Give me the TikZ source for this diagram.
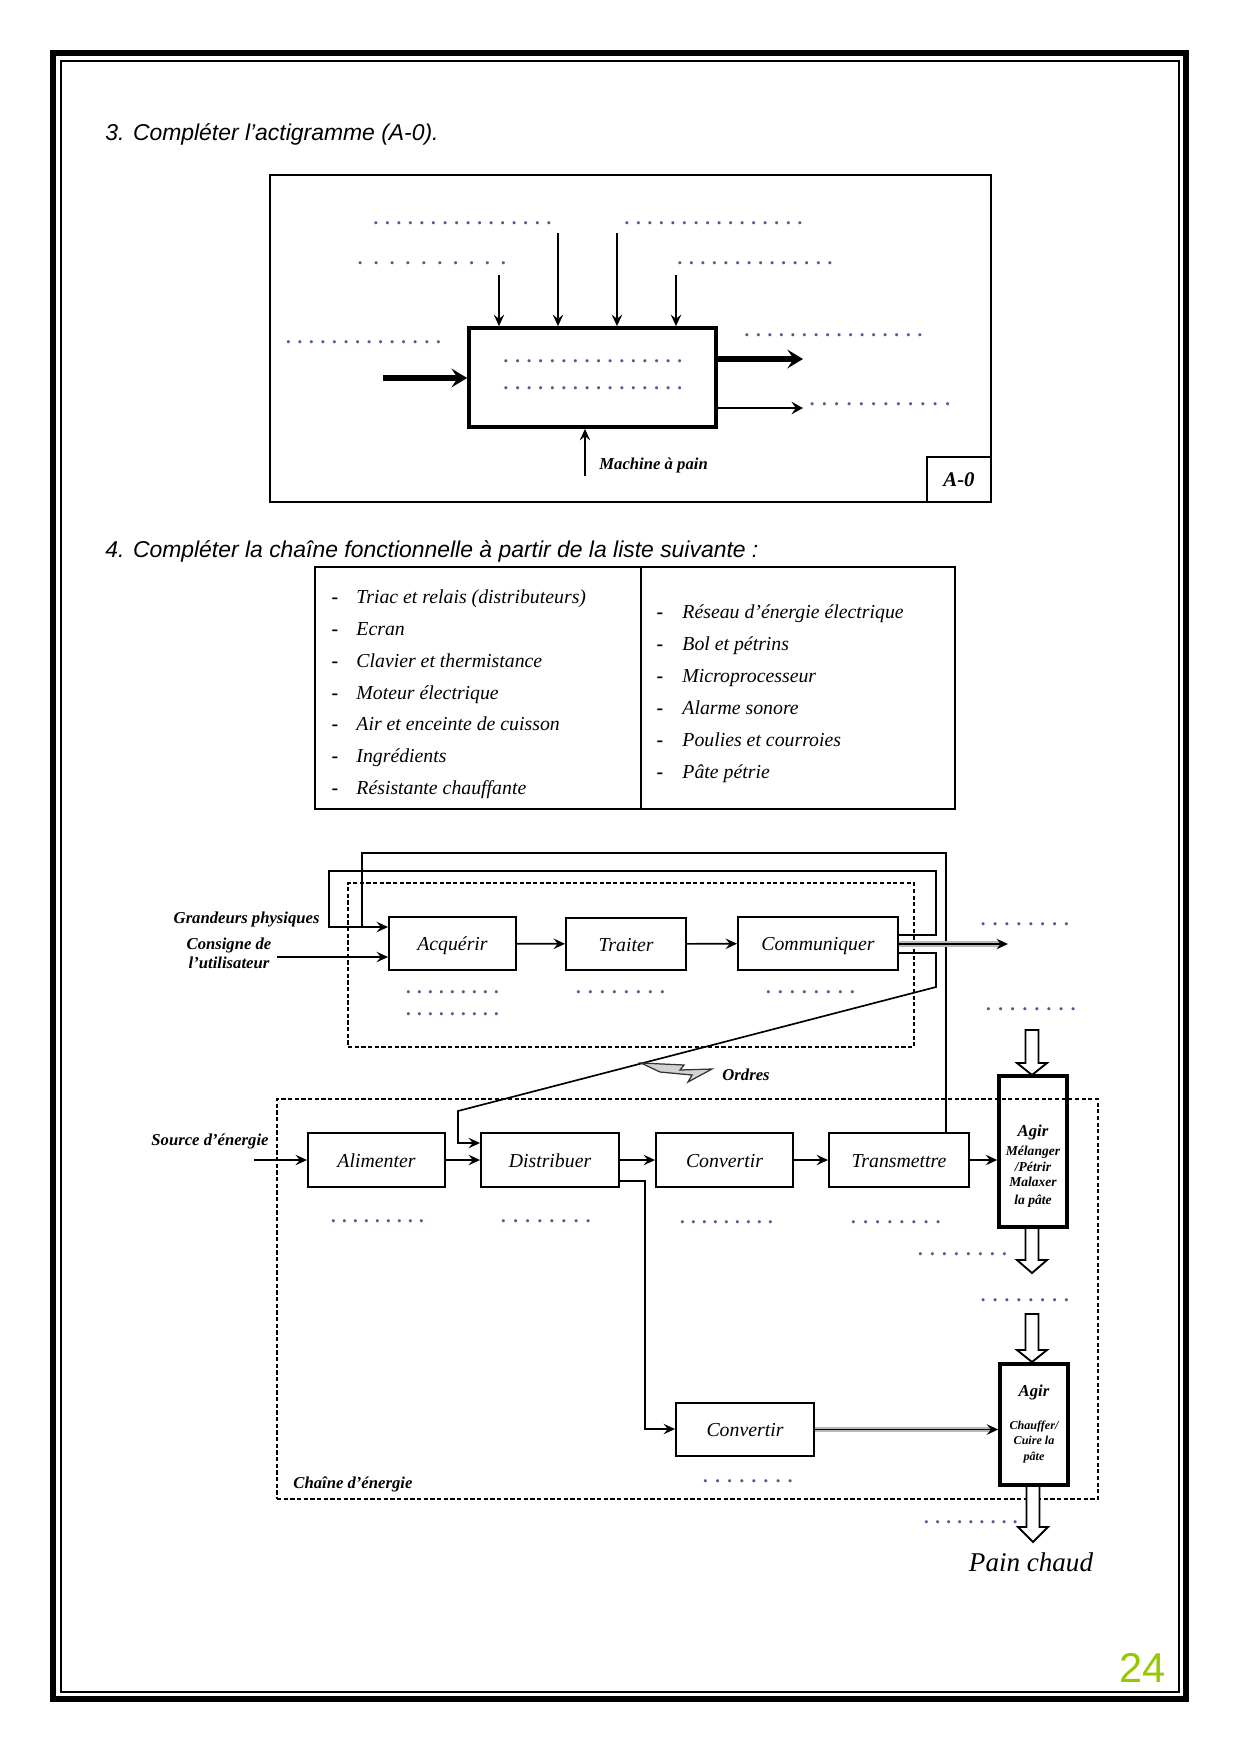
\documentclass[tikz,border=0pt]{standalone}
\usepackage{fontspec}
\setmainfont{Liberation Serif}
\newfontfamily\arialf{Liberation Sans}
\usetikzlibrary{arrows.meta}
\newdimen\pxu
\pxu=0.48pt
\definecolor{dotcol}{RGB}{95,80,150}
\definecolor{pagegreen}{RGB}{150,200,0}
\tikzset{
  arr/.style={-{Stealth[length=5.5pt,width=5pt,inset=2pt]}, line width=0.8pt},
  bigarr/.style={-{Stealth[length=7.5pt,width=9pt,inset=3pt]}, line width=3pt},
  medarr/.style={-{Stealth[length=5.5pt,width=6pt,inset=2pt]}, line width=1.4pt},
  fbox/.style={draw, line width=0.9pt, inner sep=0pt, font=\fontsize{9.5}{11}\selectfont\itshape, text height=1.6ex, text depth=0.1ex},
  agirbox/.style={draw, line width=1.7pt, inner sep=0pt},
  lbl/.style={inner sep=0pt, font=\fontsize{8}{9}\selectfont\bfseries\itshape, text height=1.5ex, text depth=0pt},
  agtxt/.style={inner sep=0pt, font=\fontsize{6.5}{7}\selectfont\bfseries\itshape, text height=1.5ex, text depth=0pt},
  agtxtb/.style={inner sep=0pt, font=\fontsize{5.8}{6.5}\selectfont\bfseries\itshape, text height=1.5ex, text depth=0pt},
  item/.style={inner sep=0pt, anchor=west, font=\fontsize{9.5}{11}\selectfont\itshape, text height=1.4ex, text depth=0pt},
  dashn/.style={inner sep=0pt, font=\fontsize{9.5}{11}\selectfont\bfseries, text height=1.4ex, text depth=0pt},
  dotn/.style={inner sep=0pt, anchor=west, text=dotcol, font=\fontsize{9}{9}\selectfont\bfseries},
  chainframe/.style={draw, dash pattern=on 2pt off 1.2pt, line width=0.7pt, inner sep=0pt},
  block/.style={draw, line width=0.9pt, fill=white},
  heading/.style={inner sep=0pt, anchor=base west, font=\arialf\fontsize{11}{13}\selectfont\itshape},
}
\newcommand\dotline[5]{%
  \pgfmathsetmacro\dlw{#3-#2+#5}%
  \node[dotn] (#1) at ({#2-#5/2},#4) {\hbox to \dlw\pxu{\xleaders\hbox to #5\pxu{\hss.\hss}\hfill}};}
\newcommand\blockarr[4]{%
  \draw[block] ({#1-6.5},#2) -- ({#1+6.5},#2) -- ({#1+6.5},#3) -- ({#1+15},#3) -- (#1,#4) -- ({#1-15},#3) -- ({#1-6.5},#3) -- cycle;}
\begin{document}
\begin{tikzpicture}[x=0.48pt, y=-0.48pt]
\useasboundingbox (0,0) rectangle (1240,1754);
\fill[white] (0,0) rectangle (1240,1754);
% page frame
\draw[line width=2.9pt] (53,53) rectangle (1186,1699);
\draw[line width=1pt] (61,61) rectangle (1179,1692);
\node[inner sep=0pt, anchor=base east, text=pagegreen, font=\arialf\fontsize{20}{24}\selectfont] (pnum) at (1166,1682) {24};
% headings
\node[heading] (h1) at (105,140) {3. Compléter l’actigramme (A-0).};
\node[heading] (h2) at (105,557) {4. Compléter la chaîne fonctionnelle à partir de la liste suivante :};

% ---------- actigramme ----------
\node[draw, line width=0.8pt, minimum width=721*\pxu, minimum height=327*\pxu, inner sep=0pt] (actframe) at (630.5,338.5) {};
\node[draw, line width=0.8pt, minimum width=64*\pxu, minimum height=45*\pxu, inner sep=0pt, font=\fontsize{10}{12}\selectfont\bfseries\itshape] (a0) at (959,479.5) {A-0};
\node[draw, line width=1.8pt, minimum width=247*\pxu, minimum height=99*\pxu, inner sep=0pt] (main) at (592.5,377.5) {};
\dotline{m1}{505}{680}{361}{11}
\dotline{m2}{505}{680}{388}{11}
\dotline{c1}{375}{549}{223}{11}
\dotline{c2}{626}{800}{223}{11}
\dotline{c3}{359}{504}{263}{15}
\dotline{c4}{679}{830}{263}{11}
\dotline{e1}{288}{438}{342}{11.5}
\dotline{s1}{746}{920}{335}{11}
\dotline{s2}{811}{948}{404}{11.5}
\coordinate (t1) at (499,275);
\coordinate (t2) at (558,233);
\coordinate (t3) at (617,233);
\coordinate (t4) at (676,275);
\foreach \c in {t1,t2,t3,t4} \draw[arr] (\c) -- (main.north -| \c);
\coordinate (inp) at (383,378);
\draw[bigarr] (inp) -- (main.west |- inp);
\coordinate (out1) at (803,359);
\draw[bigarr] (main.east |- out1) -- (out1);
\coordinate (out2) at (803,408);
\draw[medarr] (main.east |- out2) -- (out2);
\coordinate (mec) at (585,476);
\draw[arr] (mec) -- (main.south -| mec);
\node[lbl, anchor=west] (mach) at (599,462) {Machine à pain};

% ---------- liste ----------
\node[draw, line width=0.8pt, minimum width=640*\pxu, minimum height=242*\pxu, inner sep=0pt] (list) at (635,688) {};
\coordinate (divx) at (641,688);
\draw[line width=0.8pt] (list.north -| divx) -- (list.south -| divx);
\foreach \t [count=\i] in {Triac et relais (distributeurs), Ecran, Clavier et thermistance, Moteur électrique, Air et enceinte de cuisson, Ingrédients, Résistante chauffante}{
  \node[dashn] (dL\i) at (335,{597+31.8*(\i-1)}) {-};
  \node[item] (L\i) at (356,{597+31.8*(\i-1)}) {\t};
}
\foreach \t [count=\i] in {Réseau d’énergie électrique, Bol et pétrins, Microprocesseur, Alarme sonore, Poulies et courroies, Pâte pétrie}{
  \node[dashn] (dR\i) at (660,{612+32*(\i-1)}) {-};
  \node[item] (R\i) at (682,{612+32*(\i-1)}) {\t};
}

% ---------- chaine fonctionnelle ----------
\node[chainframe, minimum width=566*\pxu, minimum height=164*\pxu] (ichain) at (631,965) {};
\node[chainframe, minimum width=821*\pxu, minimum height=400*\pxu] (echain) at (687.5,1299) {};

\node[fbox, minimum width=127*\pxu, minimum height=53*\pxu] (acq) at (452.5,943.5) {Acquérir};
\node[fbox, minimum width=120*\pxu, minimum height=52*\pxu] (tra) at (626,944) {Traiter};
\node[fbox, minimum width=160*\pxu, minimum height=53*\pxu] (com) at (818,943.5) {Communiquer};
\node[fbox, minimum width=137*\pxu, minimum height=54*\pxu] (ali) at (376.5,1160) {Alimenter};
\node[fbox, minimum width=138*\pxu, minimum height=54*\pxu] (dis) at (550,1160) {Distribuer};
\node[fbox, minimum width=137*\pxu, minimum height=54*\pxu] (cv1) at (724.5,1160) {Convertir};
\node[fbox, minimum width=140*\pxu, minimum height=54*\pxu] (trm) at (899,1160) {Transmettre};
\node[agirbox, minimum width=68*\pxu, minimum height=151*\pxu] (agir1) at (1033,1151.5) {};
\node[agirbox, minimum width=68*\pxu, minimum height=121*\pxu] (agir2) at (1034,1424.5) {};
\node[fbox, minimum width=138*\pxu, minimum height=53*\pxu] (cv2) at (745,1429.5) {Convertir};

% texts of Agir boxes
\node[lbl] (ag1a) at (1033,1129) {Agir};
\node[agtxt] (ag1b) at (1033,1148) {Mélanger};
\node[agtxt] (ag1c) at (1033,1164) {/Pétrir};
\node[agtxt] (ag1d) at (1033,1179) {Malaxer};
\node[agtxt] (ag1e) at (1033,1197) {la pâte};
\node[lbl] (ag2a) at (1034,1389) {Agir};
\node[agtxtb] (ag2b) at (1034,1422) {Chauffer/};
\node[agtxtb] (ag2c) at (1034,1437) {Cuire la};
\node[agtxtb] (ag2d) at (1034,1453) {pâte};

% information chain arrows
\draw[arr] (acq) -- (tra);
\draw[arr] (tra) -- (com);
\coordinate (l2a) at (936,935);
\coordinate (l2b) at (936,871);
\coordinate (l2c) at (329,871);
\coordinate (l2d) at (329,927);
\draw[line width=1.3pt, -{Stealth[length=5.5pt,width=5pt,inset=2pt]}] (com.east |- l2a) -- (l2a) -- (l2b) -- (l2c) -- (l2d) -- (acq.west |- l2d);
\coordinate (l1a) at (946,853);
\coordinate (l1b) at (362,853);
\coordinate (l1c) at (362,927);
\draw[line width=1pt] (trm.north -| l1a) -- (l1a) -- (l1b) -- (l1c);
\coordinate (cons) at (277,957);
\draw[arr] (cons) -- (acq.west |- cons);
\coordinate (out) at (1008,944);
\draw[line width=2.6pt, gray!55] (com.east |- out) -- (1000,944);
\draw[arr] (com.east |- out) -- (out);
\coordinate (o1) at (936,953);
\coordinate (o2) at (936,987);
\coordinate (o3) at (458,1111);
\coordinate (o4) at (458,1143);
\draw[arr] (com.east |- o1) -- (o1) -- (o2) -- (o3) -- (o4) -- (dis.west |- o4);
\draw[fill=gray!35, draw=gray!40!black, line width=0.6pt] (641,1063) -- (684,1065) -- (680,1070) -- (712,1069) -- (688,1082) -- (692,1075) -- (660,1072) -- cycle;

% energy chain arrows
\coordinate (src) at (254,1160);
\draw[arr] (src) -- (ali.west);
\draw[arr] (ali) -- (dis);
\draw[arr] (dis) -- (cv1);
\draw[arr] (cv1) -- (trm);
\draw[arr] (trm.east) -- (agir1.west |- trm.east);
\coordinate (d1) at (645,1181);
\coordinate (d2) at (645,1429);
\draw[arr] (dis.east |- d1) -- (d1) -- (d2) -- (cv2.west |- d2);
\draw[line width=2.6pt, gray!55] (cv2.east) -- ([xshift=-4pt]agir2.west |- cv2.east);
\draw[arr] (cv2.east) -- (agir2.west |- cv2.east);

% hollow arrows
\blockarr{1032}{1030}{1063}{1075}
\blockarr{1032}{1228}{1260}{1273}
\blockarr{1032}{1314}{1350}{1362}
\blockarr{1033}{1486}{1527}{1542}

% labels
\node[lbl, anchor=east] (gp) at (320,916) {Grandeurs physiques};
\node[lbl, align=center, font=\fontsize{8}{8.8}\selectfont\bfseries\itshape] (consl) at (229,961) {Consigne de\\l’utilisateur};
\node[lbl, anchor=east] (srcl) at (269,1138) {Source d’énergie};
\node[lbl, anchor=west] (ordl) at (722,1073) {Ordres};
\node[lbl, anchor=west] (chl) at (293,1481) {Chaîne d’énergie};
\node[inner sep=0pt, font=\fontsize{13}{15}\selectfont\itshape] (pain) at (1031,1562) {Pain chaud};

% dotted answer lines
\dotline{da1}{408}{496}{992}{11}
\dotline{da2}{408}{496}{1014}{11}
\dotline{dt}{577}{663}{992}{11}
\dotline{dc}{767}{853}{992}{11}
\dotline{dout}{982}{1067}{924}{11}
\dotline{dag}{987}{1074}{1009}{11}
\dotline{dal}{333}{421}{1221}{11}
\dotline{ddi}{502}{589}{1221}{11}
\dotline{dcv}{682}{770}{1222}{11}
\dotline{dtr}{852}{939}{1222}{11}
\dotline{dm1}{919}{1005}{1254}{11}
\dotline{dm2}{982}{1067}{1300}{11}
\dotline{dcv2}{704}{791}{1481}{11}
\dotline{dpc}{926}{1015}{1522}{11}
\end{tikzpicture}
\end{document}
